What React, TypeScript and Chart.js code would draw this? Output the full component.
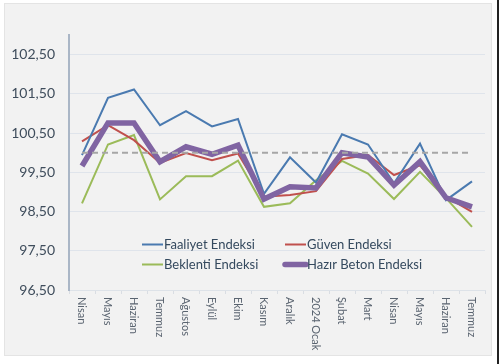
import React, { useEffect, useRef } from "react";
import { Chart, registerables } from "chart.js";

Chart.register(...registerables);

const categories = [
  "Nisan", "Mayıs", "Haziran", "Temmuz", "Ağustos", "Eylül", "Ekim", "Kasım",
  "Aralık", "2024 Ocak", "Şubat", "Mart", "Nisan", "Mayıs", "Haziran", "Temmuz",
];
const faaliyet = [99.94, 101.4, 101.61, 100.7, 101.06, 100.67, 100.86, 98.95, 99.88, 99.24, 100.47, 100.21, 99.22, 100.23, 98.79, 99.27];
const guven = [100.29, 100.7, 100.32, 99.74, 99.99, 99.81, 99.98, 98.88, 98.92, 99.02, 99.84, 99.94, 99.43, 99.68, 98.88, 98.49];
const beklenti = [98.71, 100.21, 100.45, 98.81, 99.4, 99.4, 99.8, 98.62, 98.71, 99.3, 99.79, 99.47, 98.82, 99.51, 98.84, 98.11];
const hazirBeton = [99.66, 100.76, 100.76, 99.77, 100.15, 99.96, 100.19, 98.82, 99.13, 99.1, 100.0, 99.89, 99.17, 99.77, 98.85, 98.62];
const reference = categories.map(() => 100);
const yTicks = [96.5, 97.5, 98.5, 99.5, 100.5, 101.5, 102.5];

const seriesNames = ["Faaliyet Endeksi", "Güven Endeksi", "Beklenti Endeksi", "Hazır Beton Endeksi"];
const seriesColors = ["#4a7ab0", "#c0504d", "#9bbb59", "#8064a2"];
const seriesWidths = [2, 2, 2, 5.5];

const FONT = "Lato, 'Open Sans', sans-serif";

export default function App() {
  const ref = useRef<HTMLCanvasElement | null>(null);
  useEffect(() => {
    if (!ref.current) return;
    const bgPlugin = {
      id: "bg",
      beforeDraw(chart: any) {
        const ctx = chart.ctx;
        ctx.save();
        ctx.fillStyle = "#ffffff";
        ctx.fillRect(0, 0, chart.width, chart.height);
        ctx.fillStyle = "#f2f2f2";
        ctx.fillRect(4, 3, 488, 353);
        ctx.strokeStyle = "#e4e4e4";
        ctx.lineWidth = 1;
        ctx.strokeRect(4.5, 3.5, 487, 352);
        ctx.fillStyle = "#222222";
        ctx.fillRect(497, 0, 2, chart.height);
        ctx.restore();
      },
    };
    const labelsPlugin = {
      id: "xlabels",
      afterDraw(chart: any) {
        const ctx = chart.ctx;
        const xs = chart.scales.x;
        ctx.save();
        ctx.font = "11px " + FONT;
        ctx.fillStyle = "#5a6470";
        ctx.textAlign = "left";
        ctx.textBaseline = "middle";
        categories.forEach((c, i) => {
          const x = xs.getPixelForValue(i);
          ctx.save();
          ctx.translate(x, 297);
          ctx.rotate(Math.PI / 2);
          ctx.fillText(c, 0, 0);
          ctx.restore();
        });
        // legend
        const items = [
          { i: 0, x: 142, y: 244.5 },
          { i: 1, x: 285, y: 244.5 },
          { i: 2, x: 142, y: 264.5 },
          { i: 3, x: 285, y: 264.5 },
        ];
        ctx.font = "13px " + FONT;
        ctx.fillStyle = "#34495e";
        items.forEach((it) => {
          ctx.beginPath();
          ctx.strokeStyle = seriesColors[it.i];
          ctx.lineWidth = seriesWidths[it.i];
          ctx.lineCap = it.i === 3 ? "round" : "butt";
          ctx.moveTo(it.x, it.y);
          ctx.lineTo(it.x + 21, it.y);
          ctx.stroke();
          ctx.fillText(seriesNames[it.i], it.x + 22, it.y);
        });
        ctx.restore();
      },
    };
    const datasets: any[] = [
      { label: seriesNames[0], data: faaliyet, order: 3 },
      { label: seriesNames[1], data: guven, order: 4 },
      { label: seriesNames[2], data: beklenti, order: 5 },
      { label: seriesNames[3], data: hazirBeton, order: 2 },
    ].map((d, i) => ({
      ...d,
      borderColor: seriesColors[i],
      backgroundColor: seriesColors[i],
      borderWidth: seriesWidths[i],
      pointRadius: 0,
      tension: 0,
      borderJoinStyle: "miter",
      fill: false,
    }));
    datasets.push({
      label: "ref",
      data: reference,
      borderColor: "#a6a6a6",
      borderWidth: 2,
      borderDash: [6, 4],
      pointRadius: 0,
      fill: false,
      order: 1,
    });
    const chart = new Chart(ref.current, {
      type: "line",
      data: { labels: categories, datasets },
      options: {
        responsive: false,
        animation: false,
        layout: { padding: { left: 0, top: 35, right: 15, bottom: 0 } },
        plugins: { legend: { display: false }, tooltip: { enabled: false } },
        scales: {
          x: {
            offset: true,
            afterFit(scale: any) {
              scale.height = 74;
            },
            grid: {
              offset: true,
              drawOnChartArea: false,
              drawTicks: true,
              tickLength: 4,
              color: "#d9dde3",
            },
            border: { display: true, color: "#dde2e8", width: 1 },
            ticks: { display: false },
          },
          y: {
            min: 96.5,
            max: 103,
            afterFit(scale: any) {
              scale.width = 69;
            },
            afterBuildTicks(scale: any) {
              scale.ticks = yTicks.map((v) => ({ value: v }));
            },
            grid: { color: "#dfe4eb", drawTicks: false, lineWidth: 1 },
            border: { display: true, color: "#aab6c6", width: 2 },
            ticks: {
              padding: 14,
              font: { family: FONT, size: 14 },
              color: "#3f4d5c",
              callback: (v: any) => Number(v).toFixed(2).replace(".", ","),
            },
          },
        },
      },
      plugins: [bgPlugin, labelsPlugin],
    });
    return () => chart.destroy();
  }, []);
  return (
    <div style={{ position: "fixed", left: 0, top: 0, width: 500, height: 364 }}>
      <canvas ref={ref} width={500} height={364} style={{ width: 500, height: 364 }} />
    </div>
  );
}
